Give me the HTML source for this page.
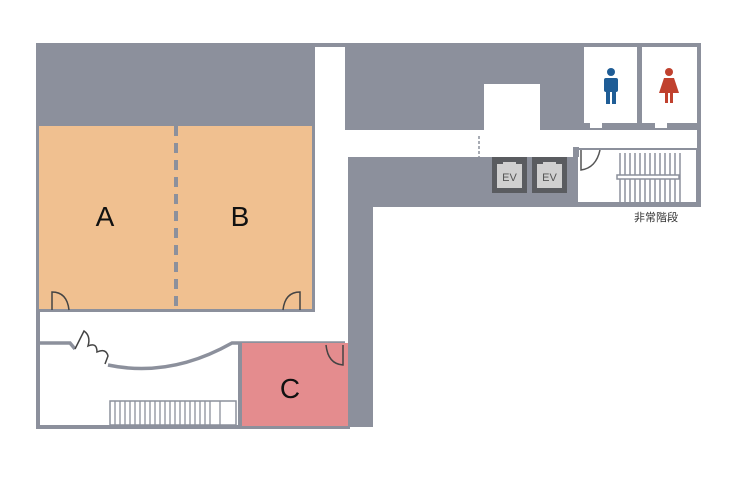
<!DOCTYPE html>
<html><head><meta charset="utf-8"><style>
html,body{margin:0;padding:0;background:#fff;width:740px;height:478px;overflow:hidden}
svg{display:block}
text{font-family:"Liberation Sans","Noto Sans CJK JP",sans-serif}
</style></head><body>
<svg width="740" height="478" viewBox="0 0 740 478" xmlns="http://www.w3.org/2000/svg">
<g fill="#8c909c">
<!-- top band -->
<rect x="36" y="43" width="665" height="87"/>
<!-- left outer wall -->
<rect x="36" y="43" width="4" height="386"/>
<!-- bottom wall -->
<rect x="36" y="425" width="314" height="4"/>
<!-- vertical gray strip right -->
<rect x="348" y="157" width="25" height="270"/>
<!-- gray below corridor -->
<rect x="348" y="157" width="353" height="50"/>
<!-- right wall of top -->
<rect x="697" y="43" width="4" height="164"/>
</g>
<!-- orange rooms -->
<rect x="39" y="126" width="273" height="184" fill="#f0c090"/>
<rect x="312" y="126" width="3" height="187" fill="#8c909c"/>
<rect x="39" y="309" width="273" height="3" fill="#8c909c"/>
<line x1="176" y1="126" x2="176" y2="310" stroke="#8c909c" stroke-width="4" stroke-dasharray="10,7"/>
<!-- white corridor vertical -->
<rect x="315" y="47" width="30" height="296" fill="#fff"/>
<!-- white horizontal corridor -->
<rect x="345" y="130" width="352" height="27" fill="#fff"/>
<rect x="484" y="84" width="56" height="48" fill="#fff"/>
<line x1="479" y1="136" x2="479" y2="158" stroke="#8c909c" stroke-width="1.5" stroke-dasharray="3,2"/>
<!-- lower white area -->
<rect x="40" y="312" width="308" height="113" fill="#fff"/>
<rect x="373" y="207" width="367" height="271" fill="#fff"/>
<!-- toilets -->
<rect x="584" y="47" width="53" height="76" fill="#fff"/>
<rect x="642" y="47" width="55" height="76" fill="#fff"/>
<rect x="590" y="123" width="12" height="5" fill="#fff"/>
<rect x="655" y="123" width="12" height="5" fill="#fff"/>
<!-- man -->
<g fill="#1f5d96"><circle cx="611" cy="72" r="4"/><rect x="604" y="78" width="14" height="14" rx="2"/><rect x="606" y="90" width="4" height="14"/><rect x="612" y="90" width="4" height="14"/></g>
<!-- woman -->
<g fill="#c0412e"><circle cx="669" cy="72" r="4"/><path d="M664 78 H674 L679 93 H659 Z"/><rect x="665" y="92" width="3" height="11"/><rect x="670" y="92" width="3" height="11"/></g>
<!-- stairs box -->
<rect x="577" y="149" width="120" height="54" fill="#fff" stroke="#8c909c" stroke-width="2"/>
<rect x="573" y="147" width="6" height="10" fill="#8c909c"/>
<path d="M581 150 V170 Q596 168 600 150" fill="none" stroke="#555" stroke-width="1.5"/>
<g stroke="#8c909c" stroke-width="1.5">
<line x1="620" y1="153" x2="620" y2="202"/><line x1="625" y1="153" x2="625" y2="202"/><line x1="630" y1="153" x2="630" y2="202"/><line x1="635" y1="153" x2="635" y2="202"/><line x1="640" y1="153" x2="640" y2="202"/><line x1="645" y1="153" x2="645" y2="202"/><line x1="650" y1="153" x2="650" y2="202"/><line x1="655" y1="153" x2="655" y2="202"/><line x1="660" y1="153" x2="660" y2="202"/><line x1="665" y1="153" x2="665" y2="202"/><line x1="670" y1="153" x2="670" y2="202"/><line x1="675" y1="153" x2="675" y2="202"/><line x1="680" y1="153" x2="680" y2="202"/>
</g>
<rect x="617" y="175" width="62" height="4" fill="#fff" stroke="#8c909c" stroke-width="1.5"/>
<text x="656" y="221" font-size="11" text-anchor="middle" fill="#333">非常階段</text>
<!-- EV -->
<rect x="492" y="157" width="35" height="36" fill="#5a5c60"/>
<rect x="532" y="157" width="35" height="36" fill="#5a5c60"/>
<path d="M497 164 H503 V162 H516 V164 H522 V188 H497 Z" fill="#d0d0d0"/>
<path d="M537 164 H543 V162 H556 V164 H562 V188 H537 Z" fill="#d0d0d0"/>
<text x="509.5" y="181" font-size="11" text-anchor="middle" fill="#555">EV</text>
<text x="549.5" y="181" font-size="11" text-anchor="middle" fill="#555">EV</text>
<!-- room labels -->
<text x="105" y="226" font-size="28" text-anchor="middle" fill="#111">A</text>
<text x="240" y="226" font-size="28" text-anchor="middle" fill="#111">B</text>
<!-- doors in orange rooms -->
<path d="M52 310 V292 Q67 292 69 310" fill="none" stroke="#444" stroke-width="1.5"/>
<path d="M300 310 V292 Q285 292 283 310" fill="none" stroke="#444" stroke-width="1.5"/>
<!-- lower wall with curve -->
<path d="M38 343 H70 L75 349 M108 365 Q170 378 232 343 H345" fill="none" stroke="#8c909c" stroke-width="3.5"/>
<path d="M75 349 L84 331 Q91 336 88 346 Q97 342 97 352 Q106 348 108 356 L105 364" fill="none" stroke="#444" stroke-width="1.5"/>
<!-- room C -->
<rect x="241" y="343" width="107" height="83" fill="#e48c8e"/>
<rect x="238" y="343" width="4" height="84" fill="#8c909c"/>
<path d="M343 345 V365 Q328 364 326 345" fill="none" stroke="#444" stroke-width="1.5"/>
<text x="290" y="398" font-size="28" text-anchor="middle" fill="#111">C</text>
<!-- lower stairs -->
<rect x="110" y="401" width="126" height="24" fill="#fff" stroke="#8c909c" stroke-width="1.5"/>
<g stroke="#8c909c" stroke-width="1.3">
<line x1="115" y1="401" x2="115" y2="425"/><line x1="120" y1="401" x2="120" y2="425"/><line x1="125" y1="401" x2="125" y2="425"/><line x1="130" y1="401" x2="130" y2="425"/><line x1="135" y1="401" x2="135" y2="425"/><line x1="140" y1="401" x2="140" y2="425"/><line x1="145" y1="401" x2="145" y2="425"/><line x1="150" y1="401" x2="150" y2="425"/><line x1="155" y1="401" x2="155" y2="425"/><line x1="160" y1="401" x2="160" y2="425"/><line x1="165" y1="401" x2="165" y2="425"/><line x1="170" y1="401" x2="170" y2="425"/><line x1="175" y1="401" x2="175" y2="425"/><line x1="180" y1="401" x2="180" y2="425"/><line x1="185" y1="401" x2="185" y2="425"/><line x1="190" y1="401" x2="190" y2="425"/><line x1="195" y1="401" x2="195" y2="425"/><line x1="200" y1="401" x2="200" y2="425"/><line x1="205" y1="401" x2="205" y2="425"/><line x1="210" y1="401" x2="210" y2="425"/><line x1="220" y1="401" x2="220" y2="425"/>
</g>
</svg>
</body></html>
